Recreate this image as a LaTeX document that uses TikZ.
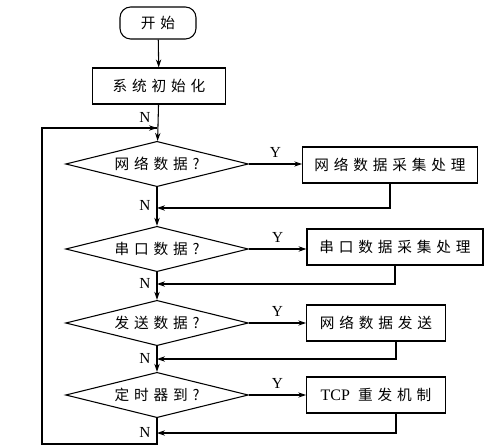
\documentclass[tikz,border=0pt]{standalone}
\usepackage{fontspec}
\setmainfont{Liberation Serif}
\newfontfamily\cjk[LetterSpace=33]{Noto Sans CJK SC}
\usepackage{tikz}
\usetikzlibrary{shapes.geometric,arrows.meta,positioning}

\begin{document}
\begin{tikzpicture}[x=0.75pt, y=-0.75pt, line width=0.8pt,
        >={Stealth[length=6pt,width=4pt]},
        proc/.style={rectangle, draw=black, minimum height=27pt, inner sep=0pt, font=\cjk\fontsize{11}{12}\selectfont},
        decide/.style={diamond, draw=black, aspect=4, minimum width=137pt, minimum height=34pt, inner sep=0pt, font=\cjk\fontsize{11}{12}\selectfont},
        lbl/.style={font=\fontsize{11.5}{12}\selectfont}]
        \useasboundingbox (0,0) rectangle (498,448);

        % Start and init
        \node[proc, rounded corners=8pt, minimum width=57pt, minimum height=24pt] (start) at (158,23) {开始};
        \node[proc, minimum width=100pt] (init) at (159,86) {系统初始化};

        % Decisions
        \node[decide] (d1) at (157,164) {网络数据?};
        \node[decide] (d2) at (157,249) {串口数据?};
        \node[decide] (d3) at (157,323) {发送数据?};
        \node[decide] (d4) at (157,395) {定时器到?};

        % Actions
        \node[proc, minimum width=131pt] (b1) at (390,165) {网络数据采集处理};
        \node[proc, minimum width=132pt] (b2) at (395,247) {串口数据采集处理};
        \node[proc, minimum width=104pt] (b3) at (376,323) {网络数据发送};
        \node[proc, minimum width=104pt] (b4) at (376,395) {{\rmfamily\fontsize{12}{12}\selectfont TCP} 重发机制};

        % Junctions on the main line
        \coordinate (loop) at (157,128);
        \coordinate (j1) at (157,208);
        \coordinate (j2) at (157,284);
        \coordinate (j3) at (157,359);
        \coordinate (j4) at (157,433);
        \coordinate (bl) at (157,444);
        \coordinate (lc) at (42,444);

        % N labels
        \node[lbl] (n0) at (145,117) {N};
        \node[lbl] (n1) at (145,205) {N};
        \node[lbl] (n2) at (145,283) {N};
        \node[lbl] (n3) at (145,358) {N};
        \node[lbl] (n4) at (145,432) {N};

        % Main line
        \draw[->] (start) -- (init);
        \draw[->] (init) -- (d1);
        \draw[->] (d1) -- (d2);
        \draw[->] (d2) -- (d3);
        \draw[->] (d3) -- (d4);
        \draw (d4.south) -- (bl) -- (lc) |- (loop);
        \draw[->] (lc |- loop) -- (loop);

        % Yes branches
        \foreach \i in {1,2,3,4}
            \draw[->] (d\i.east) -- (d\i.east -| b\i.west) node[lbl, midway, above=1pt] {Y};

        % Returns
        \draw[->] (b1.south) |- (j1);
        \draw[->] (b2.south) |- (j2);
        \draw[->] ([xshift=15pt]b3.south) |- (j3);
        \draw[->] ([xshift=15pt]b4.south) |- (j4);
\end{tikzpicture}
\end{document}
